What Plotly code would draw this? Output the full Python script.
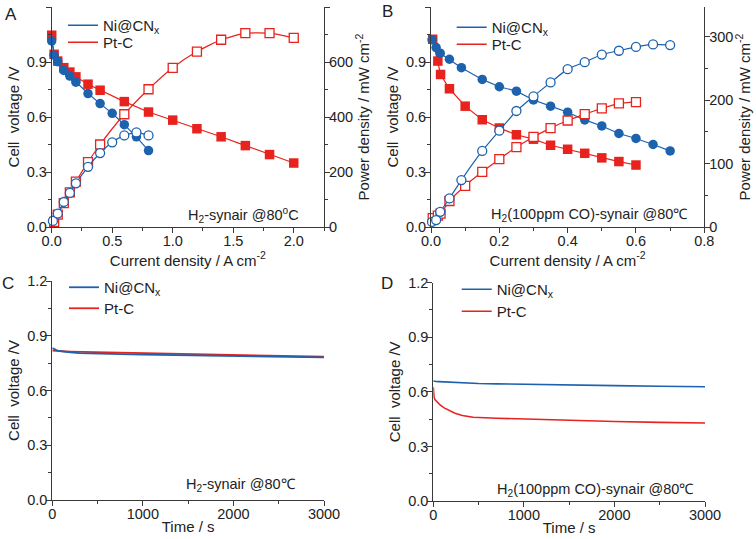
import plotly.graph_objects as go

# ---- panel A : H2-synair polarisation / power curves
a_ni_j = [0, 0.02, 0.05, 0.1, 0.15, 0.2, 0.3, 0.4, 0.5, 0.6, 0.7, 0.8]
a_ni_v = [1.015, 0.937, 0.902, 0.854, 0.823, 0.790, 0.728, 0.673, 0.620, 0.558, 0.492, 0.417]
a_ni_pj = [0.01, 0.05, 0.1, 0.15, 0.2, 0.3, 0.4, 0.5, 0.6, 0.7, 0.8]
a_ni_p = [22, 49, 91, 124, 159, 219, 269, 308, 333, 344, 333]

a_pt_j = [0, 0.02, 0.05, 0.1, 0.15, 0.2, 0.3, 0.4, 0.6, 0.8, 1.0, 1.2, 1.4, 1.6, 1.8, 2.0]
a_pt_v = [1.046, 0.942, 0.905, 0.869, 0.845, 0.819, 0.779, 0.746, 0.684, 0.627, 0.583, 0.536, 0.492, 0.444, 0.395, 0.349]
a_pt_pj = [0.02, 0.05, 0.1, 0.15, 0.2, 0.3, 0.4, 0.6, 0.8, 1.0, 1.2, 1.4, 1.6, 1.8, 2.0]
a_pt_p = [19, 45, 87, 126, 165, 236, 300, 410, 501, 579, 638, 681, 705, 705, 688]

# ---- panel B : H2(100ppm CO)-synair
b_ni_j = [0.003, 0.015, 0.027, 0.054, 0.089, 0.15, 0.2, 0.25, 0.3, 0.35, 0.4, 0.45, 0.5, 0.55, 0.6, 0.65, 0.7]
b_ni_v = [1.021, 0.979, 0.948, 0.915, 0.869, 0.805, 0.765, 0.741, 0.693, 0.659, 0.626, 0.584, 0.551, 0.510, 0.483, 0.450, 0.415]
b_ni_p = [8, 11, 24, 45, 74, 120, 152, 183, 206, 228, 249, 260, 272, 278, 284, 288, 287]

b_pt_j = [0.005, 0.02, 0.028, 0.054, 0.1, 0.15, 0.2, 0.25, 0.3, 0.35, 0.4, 0.45, 0.5, 0.55, 0.6]
b_pt_v = [1.024, 0.905, 0.832, 0.754, 0.659, 0.585, 0.540, 0.503, 0.479, 0.446, 0.424, 0.402, 0.377, 0.357, 0.338]
b_pt_p = [14, 18, 21, 41, 65, 87, 107, 126, 142, 156, 168, 178, 187, 195, 197]

# ---- panel C : stability, H2-synair
c_t = [0, 20, 50, 100, 150, 200, 300, 500, 750, 1000, 1500, 2000, 2500, 3000]
c_ni = [0.832, 0.826, 0.820, 0.815, 0.811, 0.809, 0.805, 0.801, 0.799, 0.797, 0.794, 0.790, 0.786, 0.782]
c_pt = [0.818, 0.817, 0.816, 0.815, 0.814, 0.813, 0.812, 0.810, 0.808, 0.806, 0.801, 0.796, 0.790, 0.785]

# ---- panel D : stability, H2(100ppm CO)-synair
d_t_ni = [0, 10, 30, 60, 100, 150, 200, 250, 300, 400, 500, 700, 1000, 1500, 2000, 2500, 3000]
d_ni = [0.660, 0.658, 0.657, 0.656, 0.655, 0.653, 0.652, 0.651, 0.650, 0.648, 0.646, 0.644, 0.641, 0.637, 0.634, 0.631, 0.628]
d_t_pt = [0, 3, 8, 20, 40, 75, 120, 180, 240, 320, 440, 700, 1070, 1500, 2000, 2500, 3000]
d_pt = [0.625, 0.590, 0.570, 0.556, 0.545, 0.528, 0.512, 0.495, 0.482, 0.470, 0.460, 0.455, 0.449, 0.443, 0.437, 0.432, 0.429]

BLUE = "#1c62ad"
RED = "#e8221d"
AX = "#3a3a3a"
FONT = "Liberation Sans, Arial, sans-serif"
W, H = 756, 539
NI = "Ni@CN<sub>x</sub>"

fig = go.Figure()


def volt(x, y, color, symbol, xa, ya):
    fig.add_trace(go.Scatter(x=x, y=y, mode="lines+markers", xaxis=xa, yaxis=ya,
                             line=dict(color=color, width=1.2),
                             marker=dict(symbol=symbol, size=9.5, color=color),
                             cliponaxis=False, showlegend=False))


def power(x, y, color, symbol, xa, ya):
    fig.add_trace(go.Scatter(x=x, y=y, mode="lines+markers", xaxis=xa, yaxis=ya,
                             line=dict(color=color, width=1.2, shape="spline", smoothing=0.5),
                             marker=dict(symbol=symbol, size=9, color="white",
                                         line=dict(color=color, width=1.3)),
                             cliponaxis=False, showlegend=False))


power(a_pt_pj, a_pt_p, RED, "square", "x", "y5")
power(a_ni_pj, a_ni_p, BLUE, "circle", "x", "y5")
volt(a_pt_j, a_pt_v, RED, "square", "x", "y")
volt(a_ni_j, a_ni_v, BLUE, "circle", "x", "y")

power(b_pt_j, b_pt_p, RED, "square", "x2", "y6")
power(b_ni_j, b_ni_p, BLUE, "circle", "x2", "y6")
volt(b_pt_j, b_pt_v, RED, "square", "x2", "y2")
volt(b_ni_j, b_ni_v, BLUE, "circle", "x2", "y2")

# legend entries for A and B (lines only, as in the figure)
for lg_ni, lg_pt, xa, ya in [("legend", "legend2", "x", "y"), ("legend3", "legend4", "x2", "y2")]:
    fig.add_trace(go.Scatter(x=[None], y=[None], mode="lines", name=NI,
                             line=dict(color=BLUE, width=1.5), xaxis=xa, yaxis=ya, legend=lg_ni))
    fig.add_trace(go.Scatter(x=[None], y=[None], mode="lines", name="Pt-C",
                             line=dict(color=RED, width=1.5), xaxis=xa, yaxis=ya, legend=lg_pt))

fig.add_trace(go.Scatter(x=c_t, y=c_pt, mode="lines", name="Pt-C", line=dict(color=RED, width=1.8),
                         xaxis="x3", yaxis="y3", legend="legend6"))
fig.add_trace(go.Scatter(x=c_t, y=c_ni, mode="lines", name=NI, line=dict(color=BLUE, width=1.8),
                         xaxis="x3", yaxis="y3", legend="legend5"))
fig.add_trace(go.Scatter(x=d_t_pt, y=d_pt, mode="lines", name="Pt-C", line=dict(color=RED, width=1.6),
                         xaxis="x4", yaxis="y4", legend="legend8"))
fig.add_trace(go.Scatter(x=d_t_ni, y=d_ni, mode="lines", name=NI, line=dict(color=BLUE, width=1.6),
                         xaxis="x4", yaxis="y4", legend="legend7"))


def axis(**kw):
    d = dict(showline=True, linecolor=AX, linewidth=1, ticks="outside", ticklen=5, tickcolor=AX,
             showgrid=False, zeroline=False, automargin=False, ticklabelstandoff=-4,
             tickfont=dict(size=14.5, color="#222"),
             title_font=dict(size=15, color="#222"))
    d.update(kw)
    return d


def mnr(step):
    return dict(dtick=step, tick0=0, ticks="outside", ticklen=3, tickcolor=AX)


# pixel box of a panel -> paper domains
def xdom(l, r):
    return [l / W, r / W]


def ydom(top, bot):
    return [1 - bot / H, 1 - top / H]


cur_title = "Current density / A cm<sup>-2</sup>"
pow_title = "Power density / mW cm<sup>-2</sup>"
volt_title = "Cell  voltage /V"

fig.update_layout(
    width=W, height=H, margin=dict(l=0, r=0, t=0, b=0),
    paper_bgcolor="white", plot_bgcolor="white",
    font=dict(family=FONT, size=15, color="#222"),
    xaxis=axis(domain=xdom(51.7, 324), anchor="y", range=[0, 2.25], dtick=0.5, tickformat=".1f",
               minor=mnr(0.25), title=dict(text=cur_title, standoff=0)),
    yaxis=axis(domain=ydom(7, 227), anchor="x", range=[0, 1.2], dtick=0.3, tickformat=".1f",
               minor=mnr(0.15), title=dict(text=volt_title, standoff=3)),
    yaxis5=axis(overlaying="y", side="right", anchor="x", range=[0, 800], dtick=200,
                minor=mnr(100), title=dict(text=pow_title, standoff=0)),
    xaxis2=axis(domain=xdom(431, 704.3), anchor="y2", range=[0, 0.8], dtick=0.2, tickformat=".1f",
                minor=mnr(0.1), title=dict(text=cur_title, standoff=0)),
    yaxis2=axis(domain=ydom(7, 227), anchor="x2", range=[0, 1.2], dtick=0.3, tickformat=".1f",
                minor=mnr(0.15), title=dict(text=volt_title, standoff=3)),
    yaxis6=axis(overlaying="y2", side="right", anchor="x2", range=[0, 347], dtick=100,
                minor=mnr(50), title=dict(text=pow_title, standoff=4)),
    xaxis3=axis(domain=xdom(52.3, 324), anchor="y3", range=[0, 3000], dtick=1000,
                minor=mnr(500), title=dict(text="Time / s", standoff=0)),
    yaxis3=axis(domain=ydom(281, 500), anchor="x3", range=[0, 1.2], dtick=0.3, tickformat=".1f",
                minor=mnr(0.15), title=dict(text=volt_title, standoff=3)),
    xaxis4=axis(domain=xdom(433.3, 705), anchor="y4", range=[0, 3000], dtick=1000,
                minor=mnr(500), title=dict(text="Time / s", standoff=0)),
    yaxis4=axis(domain=ydom(282.7, 501), anchor="x4", range=[0, 1.2], dtick=0.3, tickformat=".1f",
                minor=mnr(0.15), title=dict(text=volt_title, standoff=3)),
)

# one single-entry legend per row, so the row spacing matches the figure
leg = dict(bgcolor="rgba(0,0,0,0)", borderwidth=0, font=dict(size=15, color="#222"),
           xanchor="left", yanchor="top")
leg_pos = {"legend": (63, 9), "legend2": (63, 26),
           "legend3": (451.7, 11), "legend4": (451.7, 28),
           "legend5": (64, 271), "legend6": (64, 292),
           "legend7": (456.7, 273), "legend8": (456.7, 295)}
fig.update_layout({k: dict(leg, x=x / W, y=1 - y / H) for k, (x, y) in leg_pos.items()})

notes = [
    ("x domain", "y domain", 0.915, 0.055, "H<sub>2</sub>-synair @80<sup>o</sup>C"),
    ("x2 domain", "y2 domain", 0.947, 0.055, "H<sub>2</sub>(100ppm CO)-synair @80\u2103"),
    ("x3 domain", "y3 domain", 0.904, 0.068, "H<sub>2</sub>-synair @80\u2103"),
    ("x4 domain", "y4 domain", 0.968, 0.05, "H<sub>2</sub>(100ppm CO)-synair @80\u2103"),
]
for xr, yr, x, y, t in notes:
    fig.add_annotation(xref=xr, yref=yr, x=x, y=y, text=t, showarrow=False,
                       xanchor="right", yanchor="middle", font=dict(size=14.5, color="#222"))

for lab, x, y in [("A", 3, 14), ("B", 380, 12), ("C", 0, 283), ("D", 379, 283)]:
    fig.add_annotation(xref="paper", yref="paper", x=x / W, y=1 - y / H, text=lab,
                       showarrow=False, xanchor="left", yanchor="middle",
                       font=dict(size=17, color="#222"))

# the page body has an 8px default margin; drop it so the figure fills the window
fig.write_html("out.html", config={"displayModeBar": False},
               post_script="document.body.style.margin='0';"
                           "document.body.style.overflow='hidden';")
